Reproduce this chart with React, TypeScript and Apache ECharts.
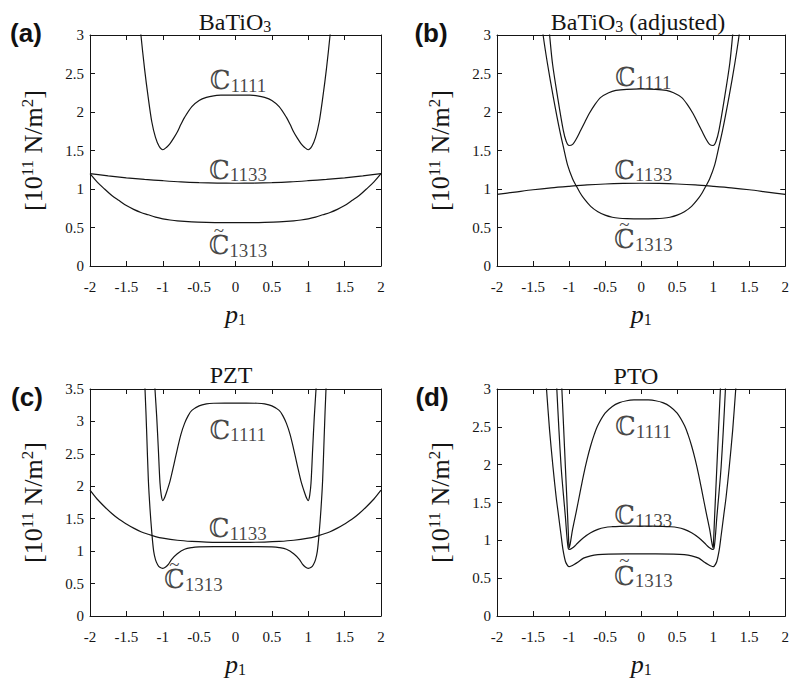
import React, { useEffect, useRef } from 'react';
import * as echarts from 'echarts';

// ---------- data ----------
const panelLetters = ['(a)', '(b)', '(c)', '(d)'];
const panelTitles = ['BaTiO{s|3}', 'BaTiO{s|3} (adjusted)', 'PZT', 'PTO'];
const yMaxes = [3, 3, 3.5, 3];
const labelSubs = ['1111', '1133', '1313'];

// (a) BaTiO3
const aC1111: number[][] = [
  [-1.34, 3.4], [-1.3, 3.0], [-1.25, 2.56], [-1.2, 2.19], [-1.15, 1.87], [-1.1, 1.67], [-1.05, 1.555],
  [-1.0, 1.51], [-0.95, 1.54], [-0.9, 1.59], [-0.85, 1.66], [-0.8, 1.74], [-0.75, 1.84], [-0.7, 1.93],
  [-0.6, 2.07], [-0.5, 2.15], [-0.4, 2.19], [-0.3, 2.21], [-0.2, 2.218], [-0.1, 2.22], [0, 2.22],
  [0.1, 2.22], [0.2, 2.218], [0.3, 2.21], [0.4, 2.19], [0.5, 2.15], [0.6, 2.07], [0.7, 1.93],
  [0.75, 1.84], [0.8, 1.74], [0.85, 1.66], [0.9, 1.59], [0.95, 1.54], [1.0, 1.51], [1.05, 1.555],
  [1.1, 1.67], [1.15, 1.87], [1.2, 2.19], [1.25, 2.56], [1.3, 3.0], [1.34, 3.4],
];
const aC1133: number[][] = [
  [-2, 1.2], [-1.75, 1.17], [-1.5, 1.145], [-1.25, 1.125], [-1, 1.108], [-0.75, 1.093], [-0.5, 1.083],
  [-0.25, 1.077], [0, 1.075], [0.25, 1.077], [0.5, 1.083], [0.75, 1.093], [1, 1.108], [1.25, 1.125],
  [1.5, 1.145], [1.75, 1.17], [2, 1.2],
];
const aC1313: number[][] = [
  [-2, 1.2], [-1.9, 1.09], [-1.8, 1.0], [-1.7, 0.915], [-1.6, 0.85], [-1.5, 0.785], [-1.4, 0.735],
  [-1.3, 0.695], [-1.2, 0.665], [-1.1, 0.635], [-1.0, 0.613], [-0.9, 0.597], [-0.8, 0.585], [-0.6, 0.572],
  [-0.4, 0.566], [-0.2, 0.563], [0, 0.563], [0.2, 0.563], [0.4, 0.566], [0.6, 0.572], [0.8, 0.585],
  [0.9, 0.597], [1.0, 0.613], [1.1, 0.635], [1.2, 0.665], [1.3, 0.695], [1.4, 0.735], [1.5, 0.785],
  [1.6, 0.85], [1.7, 0.915], [1.8, 1.0], [1.9, 1.09], [2, 1.2],
];

// (b) BaTiO3 (adjusted)
const bC1111: number[][] = [
  [-1.31, 3.4], [-1.27, 3.0], [-1.23, 2.63], [-1.16, 2.2], [-1.08, 1.76], [-1.04, 1.62], [-1.0, 1.565],
  [-0.95, 1.58], [-0.9, 1.65], [-0.84, 1.76], [-0.78, 1.87], [-0.72, 1.98], [-0.64, 2.1], [-0.56, 2.19],
  [-0.45, 2.25], [-0.35, 2.28], [-0.2, 2.295], [0, 2.3], [0.2, 2.295], [0.35, 2.28], [0.45, 2.25],
  [0.56, 2.19], [0.64, 2.1], [0.72, 1.98], [0.78, 1.87], [0.84, 1.76], [0.9, 1.65], [0.95, 1.58],
  [1.0, 1.565], [1.04, 1.62], [1.08, 1.76], [1.16, 2.2], [1.23, 2.63], [1.27, 3.0], [1.31, 3.4],
];
const bC1133: number[][] = [
  [-2, 0.93], [-1.75, 0.96], [-1.5, 0.99], [-1.25, 1.015], [-1, 1.035], [-0.75, 1.053], [-0.5, 1.065],
  [-0.25, 1.072], [0, 1.075], [0.25, 1.072], [0.5, 1.065], [0.75, 1.053], [1, 1.035], [1.25, 1.015],
  [1.5, 0.99], [1.75, 0.96], [2, 0.93],
];
const bC1313: number[][] = [
  [-1.41, 3.4], [-1.36, 3.0], [-1.3, 2.63], [-1.22, 2.2], [-1.13, 1.76], [-1.075, 1.53], [-1.02, 1.31],
  [-0.95, 1.13], [-0.9, 1.04], [-0.85, 0.955], [-0.8, 0.885], [-0.7, 0.775], [-0.6, 0.705], [-0.5, 0.66],
  [-0.4, 0.633], [-0.3, 0.62], [-0.2, 0.614], [-0.1, 0.612], [0, 0.612], [0.1, 0.612], [0.2, 0.614],
  [0.3, 0.62], [0.4, 0.633], [0.5, 0.66], [0.6, 0.705], [0.7, 0.775], [0.8, 0.885], [0.85, 0.955],
  [0.9, 1.04], [0.95, 1.13], [1.02, 1.31], [1.075, 1.53], [1.13, 1.76], [1.22, 2.2], [1.3, 2.63],
  [1.36, 3.0], [1.41, 3.4],
];

// (c) PZT
const cC1111: number[][] = [
  [-1.13, 3.95], [-1.107, 3.5], [-1.083, 3.07], [-1.06, 2.56], [-1.038, 2.05], [-1.02, 1.86], [-1.0, 1.78],
  [-0.98, 1.81], [-0.95, 1.9], [-0.9, 2.08], [-0.85, 2.32], [-0.8, 2.57], [-0.75, 2.8], [-0.7, 2.97],
  [-0.65, 3.09], [-0.6, 3.17], [-0.5, 3.24], [-0.4, 3.27], [-0.3, 3.28], [-0.15, 3.282], [0, 3.282],
  [0.15, 3.282], [0.3, 3.28], [0.4, 3.27], [0.5, 3.24], [0.6, 3.17], [0.65, 3.09], [0.7, 2.97],
  [0.75, 2.8], [0.8, 2.57], [0.85, 2.32], [0.9, 2.08], [0.95, 1.9], [0.98, 1.81], [1.0, 1.78],
  [1.02, 1.86], [1.038, 2.05], [1.06, 2.56], [1.083, 3.07], [1.107, 3.5], [1.13, 3.95],
];
const cC1133: number[][] = [
  [-2, 1.94], [-1.9, 1.8], [-1.8, 1.685], [-1.7, 1.58], [-1.6, 1.49], [-1.5, 1.42], [-1.4, 1.355],
  [-1.3, 1.3], [-1.2, 1.26], [-1.1, 1.225], [-1.0, 1.2], [-0.8, 1.168], [-0.6, 1.15], [-0.4, 1.14],
  [-0.2, 1.136], [0, 1.135], [0.2, 1.136], [0.4, 1.14], [0.6, 1.15], [0.8, 1.168], [1.0, 1.2],
  [1.1, 1.225], [1.2, 1.26], [1.3, 1.3], [1.4, 1.355], [1.5, 1.42], [1.6, 1.49], [1.7, 1.58],
  [1.8, 1.685], [1.9, 1.8], [2, 1.94],
];
const cC1313: number[][] = [
  [-1.27, 3.95], [-1.244, 3.5], [-1.22, 2.8], [-1.198, 2.1], [-1.175, 1.65], [-1.15, 1.28], [-1.125, 1.0],
  [-1.1, 0.87], [-1.07, 0.79], [-1.04, 0.75], [-1.0, 0.735], [-0.96, 0.755], [-0.92, 0.8], [-0.88, 0.87],
  [-0.8, 0.96], [-0.7, 1.03], [-0.6, 1.055], [-0.5, 1.065], [-0.3, 1.07], [0, 1.07], [0.3, 1.07],
  [0.5, 1.065], [0.6, 1.055], [0.7, 1.03], [0.8, 0.96], [0.88, 0.87], [0.92, 0.8], [0.96, 0.755],
  [1.0, 0.735], [1.04, 0.75], [1.07, 0.79], [1.1, 0.87], [1.125, 1.0], [1.15, 1.28], [1.175, 1.65],
  [1.198, 2.1], [1.22, 2.8], [1.244, 3.5], [1.27, 3.95],
];

// (d) PTO
const dC1111: number[][] = [
  [-1.12, 3.4], [-1.1, 3.0], [-1.075, 2.48], [-1.05, 1.95], [-1.02, 1.32], [-1.005, 0.98], [-1.0, 0.9],
  [-0.985, 0.95], [-0.95, 1.15], [-0.9, 1.38], [-0.85, 1.62], [-0.8, 1.86], [-0.75, 2.07], [-0.7, 2.25],
  [-0.65, 2.4], [-0.6, 2.52], [-0.5, 2.68], [-0.4, 2.77], [-0.3, 2.82], [-0.2, 2.845], [-0.1, 2.855],
  [0, 2.856], [0.1, 2.855], [0.2, 2.845], [0.3, 2.82], [0.4, 2.77], [0.5, 2.68], [0.6, 2.52],
  [0.65, 2.4], [0.7, 2.25], [0.75, 2.07], [0.8, 1.86], [0.85, 1.62], [0.9, 1.38], [0.95, 1.15],
  [0.985, 0.95], [1.0, 0.9], [1.005, 0.98], [1.02, 1.32], [1.05, 1.95], [1.075, 2.48], [1.1, 3.0],
  [1.12, 3.4],
];
const dC1133: number[][] = [
  [-1.19, 3.4], [-1.17, 3.0], [-1.14, 2.45], [-1.11, 1.97], [-1.08, 1.62], [-1.05, 1.3], [-1.03, 1.05],
  [-1.01, 0.89], [-0.99, 0.88], [-0.96, 0.895], [-0.92, 0.925], [-0.88, 0.965], [-0.8, 1.035], [-0.7, 1.1],
  [-0.6, 1.145], [-0.5, 1.17], [-0.4, 1.18], [-0.3, 1.185], [-0.15, 1.188], [0, 1.188], [0.15, 1.188],
  [0.3, 1.185], [0.4, 1.18], [0.5, 1.17], [0.6, 1.145], [0.7, 1.1], [0.8, 1.035], [0.88, 0.965],
  [0.92, 0.925], [0.96, 0.895], [0.99, 0.88], [1.01, 0.89], [1.03, 1.05], [1.05, 1.3], [1.08, 1.62],
  [1.11, 1.97], [1.14, 2.45], [1.17, 3.0], [1.19, 3.4],
];
const dC1313: number[][] = [
  [-1.36, 3.6], [-1.313, 3.0], [-1.27, 2.45], [-1.223, 1.97], [-1.18, 1.58], [-1.145, 1.32], [-1.11, 1.06],
  [-1.085, 0.88], [-1.05, 0.72], [-1.02, 0.665], [-1.0, 0.652], [-0.97, 0.66], [-0.93, 0.68], [-0.88, 0.71],
  [-0.8, 0.765], [-0.7, 0.795], [-0.6, 0.81], [-0.45, 0.817], [-0.2, 0.82], [0, 0.82], [0.2, 0.82],
  [0.45, 0.817], [0.6, 0.81], [0.7, 0.795], [0.8, 0.765], [0.88, 0.71], [0.93, 0.68], [0.97, 0.66],
  [1.0, 0.652], [1.02, 0.665], [1.05, 0.72], [1.085, 0.88], [1.11, 1.06], [1.145, 1.32], [1.18, 1.58],
  [1.223, 1.97], [1.27, 2.45], [1.313, 3.0], [1.36, 3.6],
];

// annotation anchors (data coords) for C1111, C1133, C~1313
const aLabelPos = [[0.034, 2.41], [0.034, 1.25], [0.034, 0.27]];
const bLabelPos = [[0.03, 2.45], [0.03, 1.25], [0.03, 0.35]];
const cLabelPos = [[0.03, 2.87], [0.03, 1.35], [-0.58, 0.57]];
const dLabelPos = [[0.03, 2.51], [0.03, 1.33], [0.03, 0.53]];

const panelCurves = [
  [aC1111, aC1133, aC1313],
  [bC1111, bC1133, bC1313],
  [cC1111, cC1133, cC1313],
  [dC1111, dC1133, dC1313],
];
const panelLabelPos = [aLabelPos, bLabelPos, cLabelPos, dLabelPos];

// ---------- layout ----------
const SERIF = 'Liberation Serif, DejaVu Serif, serif';
const SANS = 'Liberation Sans, Arial, sans-serif';
const DS = 'DejaVu Serif, DejaVu Sans, serif';
const INK = '#151515';

const grids = [
  { left: 90, top: 35, width: 291, height: 231 },
  { left: 497, top: 35, width: 291, height: 231 },
  { left: 90, top: 389, width: 291, height: 229 },
  { left: 497, top: 389, width: 291, height: 229 },
];
const letterPos = [[26, 20], [431, 20], [27, 384], [432, 384]];
const titlePos = [[235, 9], [638, 9], [231, 363], [636, 364]];

function buildOption() {
  const axisLine = { show: true, onZero: false, lineStyle: { color: INK, width: 1 } };
  const axisTick = { show: true, inside: true, length: 5, lineStyle: { color: INK, width: 1 } };
  const xAxis: any[] = [];
  const yAxis: any[] = [];
  const series: any[] = [];
  const title: any[] = [];

  grids.forEach((_, g) => {
    xAxis.push({
      type: 'value', gridIndex: g, position: 'bottom', min: -2, max: 2, interval: 0.5,
      axisLine, axisTick, splitLine: { show: false },
      axisLabel: { fontFamily: SERIF, fontSize: 15, color: INK, margin: 13 },
      name: '{i|p}{s|1}', nameLocation: 'middle', nameGap: 35,
      nameTextStyle: {
        fontFamily: SERIF, fontSize: 26, fontStyle: 'italic', color: INK,
        rich: {
          i: { fontFamily: SERIF, fontSize: 26, fontStyle: 'italic', color: INK },
          s: { fontFamily: SERIF, fontSize: 16, fontStyle: 'normal', color: INK, padding: [10, 0, 0, 0] },
        },
      },
    });
    xAxis.push({
      type: 'value', gridIndex: g, position: 'top', min: -2, max: 2, interval: 0.5,
      axisLine, axisTick, splitLine: { show: false }, axisLabel: { show: false },
    });
    yAxis.push({
      type: 'value', gridIndex: g, position: 'left', min: 0, max: yMaxes[g], interval: 0.5,
      axisLine, axisTick, splitLine: { show: false },
      axisLabel: { fontFamily: SERIF, fontSize: 15, color: INK, margin: 6 },
      name: '[10{sup|11} N/m{sup|2}]', nameLocation: 'middle', nameGap: 42,
      nameTextStyle: {
        fontFamily: SERIF, fontSize: 26, color: INK,
        rich: {
          sup: { fontFamily: SERIF, fontSize: 17, color: INK, padding: [0, 0, 12, 0] },
        },
      },
    });
    yAxis.push({
      type: 'value', gridIndex: g, position: 'right', min: 0, max: yMaxes[g], interval: 0.5,
      axisLine, axisTick, splitLine: { show: false }, axisLabel: { show: false },
    });

    panelCurves[g].forEach((data, k) => {
      series.push({
        type: 'line', name: `p${g}c${k}`, xAxisIndex: 2 * g, yAxisIndex: 2 * g, data,
        showSymbol: false, symbol: 'none', smooth: 0.3, clip: true, silent: true,
        lineStyle: { color: INK, width: 1.2 },
      });
    });

    const pos = panelLabelPos[g];
    series.push({
      type: 'scatter', xAxisIndex: 2 * g, yAxisIndex: 2 * g, symbolSize: 0, silent: true,
      data: pos.map((p, i) => ({ value: p, name: labelSubs[i] })),
      label: {
        show: true, position: 'inside',
        formatter: (p: any) => `{c|ℂ}{s|${p.name}}`,
        rich: {
          c: { fontFamily: DS, fontSize: 26, color: INK },
          s: { fontFamily: SERIF, fontSize: 19, color: INK, padding: [10, 0, 0, 0] },
        },
      },
    });
    series.push({
      type: 'scatter', xAxisIndex: 2 * g, yAxisIndex: 2 * g, symbolSize: 0, silent: true,
      data: [{ value: pos[2], name: 'tilde' }],
      label: {
        show: true, position: 'inside', offset: [-19, -15],
        formatter: () => '~', fontFamily: SERIF, fontSize: 19, color: INK,
      },
    });

    title.push({
      text: panelLetters[g], left: letterPos[g][0], top: letterPos[g][1], padding: 0,
      textAlign: 'center', textVerticalAlign: 'top',
      textStyle: { fontFamily: SANS, fontWeight: 'bold', fontSize: 26, color: '#111' },
    });
    title.push({
      text: panelTitles[g], left: titlePos[g][0], top: titlePos[g][1], padding: 0,
      textAlign: 'center', textVerticalAlign: 'top',
      textStyle: {
        fontFamily: SERIF, fontWeight: 'normal', fontSize: 24, color: INK,
        rich: { s: { fontFamily: SERIF, fontSize: 16, color: INK, padding: [9, 0, 0, 0] } },
      },
    });
  });

  return {
    animation: false,
    backgroundColor: '#ffffff',
    textStyle: { fontFamily: SERIF, color: INK },
    grid: grids.map((r) => ({ ...r, containLabel: false })),
    title,
    xAxis,
    yAxis,
    series,
  };
}

export default function App() {
  const ref = useRef<HTMLDivElement>(null);
  useEffect(() => {
    if (!ref.current) return;
    const chart = echarts.init(ref.current, undefined, { renderer: 'svg' });
    chart.setOption(buildOption() as any);
    return () => chart.dispose();
  }, []);
  return (
    <div
      ref={ref}
      style={{ position: 'absolute', left: 0, top: 0, width: 792, height: 678, background: '#fff' }}
    />
  );
}
